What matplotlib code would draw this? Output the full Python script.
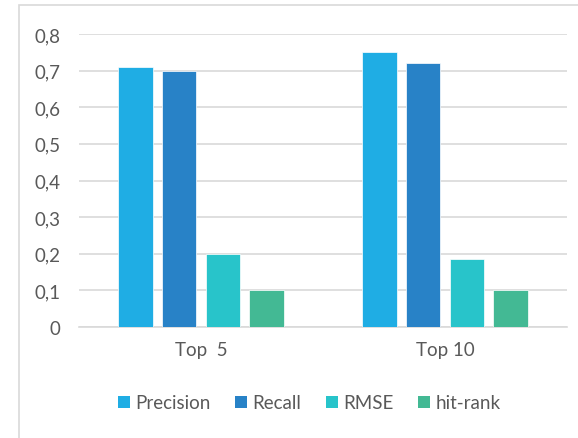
import matplotlib.pyplot as plt
import numpy as np
from matplotlib.patches import Patch, Rectangle

# data
categories = ['Top  5', 'Top 10']
series_names = ['Precision', 'Recall', 'RMSE', 'hit-rank']
precision = [0.71, 0.75]
recall = [0.70, 0.72]
rmse = [0.20, 0.185]
hit_rank = [0.10, 0.10]
yticks = [0, 0.1, 0.2, 0.3, 0.4, 0.5, 0.6, 0.7, 0.8]
ytick_labels = ['0', '0,1', '0,2', '0,3', '0,4', '0,5', '0,6', '0,7', '0,8']

colors = ['#1FADE4', '#2882C7', '#28C4CA', '#43B994']
text_color = '#595959'

plt.rcParams['font.family'] = ['Lato', 'DejaVu Sans']

fig = plt.figure(figsize=(5.78, 4.39), dpi=100)
# plot area in pixels: x 79..567, y 35..328 (0.8 at top)
ax = fig.add_axes([79 / 578, 1 - 328 / 439, (567 - 79) / 578, (328 - 35) / 439])

# chart border
fig.patches.append(Rectangle((19 / 578, -0.05), 1.1, 1 - 6 / 439 + 0.05,
                             transform=fig.transFigure, fill=False,
                             edgecolor='#D9D9D9', linewidth=1.2))

x = np.arange(len(categories))
width = 0.143
step = 0.18
all_series = [precision, recall, rmse, hit_rank]
for i, vals in enumerate(all_series):
    offset = (i - 1.5) * step
    ax.bar(x + offset, vals, width, color=colors[i], edgecolor='white',
           linewidth=0.5, zorder=3)

ax.set_xlim(-0.5, 1.5)
ax.set_ylim(0, 0.8)
ax.set_yticks(yticks)
ax.set_yticklabels(ytick_labels)
ax.set_xticks(x)
ax.set_xticklabels(categories)
ax.tick_params(axis='both', length=0, colors=text_color, labelsize=13.5)
ax.tick_params(axis='y', pad=13.5)
ax.tick_params(axis='x', pad=10)
ax.yaxis.grid(True, color='#D9D9D9', linewidth=1.2, zorder=0)
for s in ['top', 'right', 'left']:
    ax.spines[s].set_visible(False)
ax.spines['bottom'].set_color('#D9D9D9')
ax.spines['bottom'].set_linewidth(1.2)

handles = [Patch(facecolor=c, label=n) for c, n in zip(colors, series_names)]
leg = fig.legend(handles=handles, loc='center', bbox_to_anchor=(0.535, 1 - 404 / 439),
                 ncol=4, frameon=False, fontsize=13.5, handlelength=0.64,
                 handleheight=0.64, handletextpad=0.27, columnspacing=1.33)
for t in leg.get_texts():
    t.set_color(text_color)

fig.savefig('out.png', dpi=100)
